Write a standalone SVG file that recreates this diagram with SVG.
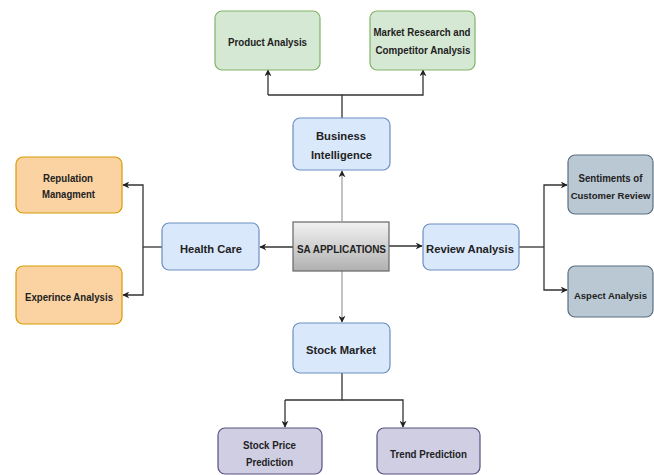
<svg xmlns="http://www.w3.org/2000/svg" width="654" height="475" viewBox="0 0 654 475">
<defs>
<linearGradient id="gSA" x1="0" y1="0" x2="0" y2="1">
<stop offset="0" stop-color="#f2f2f2"/><stop offset="1" stop-color="#b0b0b0"/>
</linearGradient>
<marker id="ah" viewBox="0 0 10 10" refX="9" refY="5" markerWidth="7" markerHeight="7" orient="auto" markerUnits="userSpaceOnUse">
<path d="M0,0 L10,5 L0,10 L3,5 Z" fill="#222"/>
</marker>
<style>
text{font-family:"Liberation Sans",Arial,sans-serif;font-weight:bold;font-size:11.5px;fill:#222;}
text.sm{font-size:9.5px;}
.g{fill:#d5e8d4;stroke:#82b366;stroke-width:1.2}
.b{fill:#dae8fc;stroke:#6c8ebf;stroke-width:1.2}
.o{fill:#fbd3a3;stroke:#d79b00;stroke-width:1.2}
.s{fill:#bac8d3;stroke:#5a6f80;stroke-width:1.2}
.p{fill:#d0cee2;stroke:#56517e;stroke-width:1.2}
.sa{fill:url(#gSA);stroke:#666;stroke-width:1.2}
.c{fill:none;stroke:#333;stroke-width:1.3}
.ca{fill:none;stroke:#333;stroke-width:1.3;marker-end:url(#ah)}
.cl{fill:none;stroke:#999;stroke-width:1.2;marker-end:url(#ah)}
</style>
</defs>
<g id="connectors">
<path class="c" d="M342,118 V95 H268"/>
<path class="ca" d="M268,95 V70"/>
<path class="ca" d="M342,95 H423 V70"/>
<path class="cl" d="M342,221 V171"/>
<path class="cl" d="M342,271 V322"/>
<path class="ca" d="M293,247 H260"/>
<path class="ca" d="M389,246 H422"/>
<path class="c" d="M162,247 H143"/>
<path class="ca" d="M143,247 V185 H123"/>
<path class="ca" d="M143,247 V295 H123"/>
<path class="c" d="M519,247 H544"/>
<path class="ca" d="M544,247 V185 H567"/>
<path class="ca" d="M544,247 V290 H567"/>
<path class="c" d="M342,373 V400 H285"/>
<path class="ca" d="M285,400 V427"/>
<path class="ca" d="M342,400 H403 V427"/>
</g>
<g id="product-analysis"><rect class="g" x="215" y="11" width="105" height="59" rx="7"/><text x="267.5" y="46" text-anchor="middle" textLength="79" lengthAdjust="spacingAndGlyphs">Product Analysis</text></g>
<g id="market-research"><rect class="g" x="370" y="11" width="105" height="59" rx="7"/><text x="422" y="36" text-anchor="middle" textLength="97" lengthAdjust="spacingAndGlyphs">Market Research and</text><text x="423" y="54" text-anchor="middle" textLength="95" lengthAdjust="spacingAndGlyphs">Competitor Analysis</text></g>
<g id="business-intelligence"><rect class="b" x="293" y="118" width="97" height="52" rx="7"/><text x="341" y="140" text-anchor="middle" textLength="50" lengthAdjust="spacingAndGlyphs">Business</text><text x="341.5" y="159" text-anchor="middle" textLength="61" lengthAdjust="spacingAndGlyphs">Intelligence</text></g>
<g id="reputation"><rect class="o" x="16" y="157" width="106" height="56" rx="7"/><text x="68" y="182" text-anchor="middle" textLength="50" lengthAdjust="spacingAndGlyphs">Repulation</text><text x="68.5" y="198" text-anchor="middle" textLength="53" lengthAdjust="spacingAndGlyphs">Managment</text></g>
<g id="experience"><rect class="o" x="16" y="266" width="106" height="58" rx="7"/><text x="69" y="301" text-anchor="middle" textLength="88" lengthAdjust="spacingAndGlyphs">Experince Analysis</text></g>
<g id="health-care"><rect class="b" x="162" y="223" width="97" height="47" rx="7"/><text x="211" y="253" text-anchor="middle" textLength="62" lengthAdjust="spacingAndGlyphs">Health Care</text></g>
<g id="sa-applications"><rect class="sa" x="293" y="222" width="96" height="49"/><text x="341.5" y="253" text-anchor="middle" textLength="89" lengthAdjust="spacingAndGlyphs">SA APPLICATIONS</text></g>
<g id="review-analysis"><rect class="b" x="423" y="224" width="96" height="46" rx="7"/><text x="470" y="253" text-anchor="middle" textLength="88" lengthAdjust="spacingAndGlyphs">Review Analysis</text></g>
<g id="sentiments"><rect class="s" x="568" y="155" width="85" height="59" rx="7"/><text x="610.5" y="182" text-anchor="middle" textLength="64" lengthAdjust="spacingAndGlyphs">Sentiments of</text><text class="sm" x="610.5" y="199" text-anchor="middle">Customer Review</text></g>
<g id="aspect-analysis"><rect class="s" x="568" y="266" width="85" height="51" rx="7"/><text class="sm" x="610.5" y="299" text-anchor="middle">Aspect Analysis</text></g>
<g id="stock-market"><rect class="b" x="293" y="323" width="97" height="50" rx="7"/><text x="341" y="354" text-anchor="middle" textLength="70" lengthAdjust="spacingAndGlyphs">Stock Market</text></g>
<g id="stock-price"><rect class="p" x="218" y="428" width="104" height="46" rx="7"/><text x="269.5" y="449" text-anchor="middle" textLength="53" lengthAdjust="spacingAndGlyphs">Stock Price</text><text x="269.5" y="466" text-anchor="middle" textLength="47" lengthAdjust="spacingAndGlyphs">Prediction</text></g>
<g id="trend-prediction"><rect class="p" x="377" y="428" width="103" height="46" rx="7"/><text x="428.5" y="458" text-anchor="middle" textLength="77" lengthAdjust="spacingAndGlyphs">Trend Prediction</text></g>
</svg>
